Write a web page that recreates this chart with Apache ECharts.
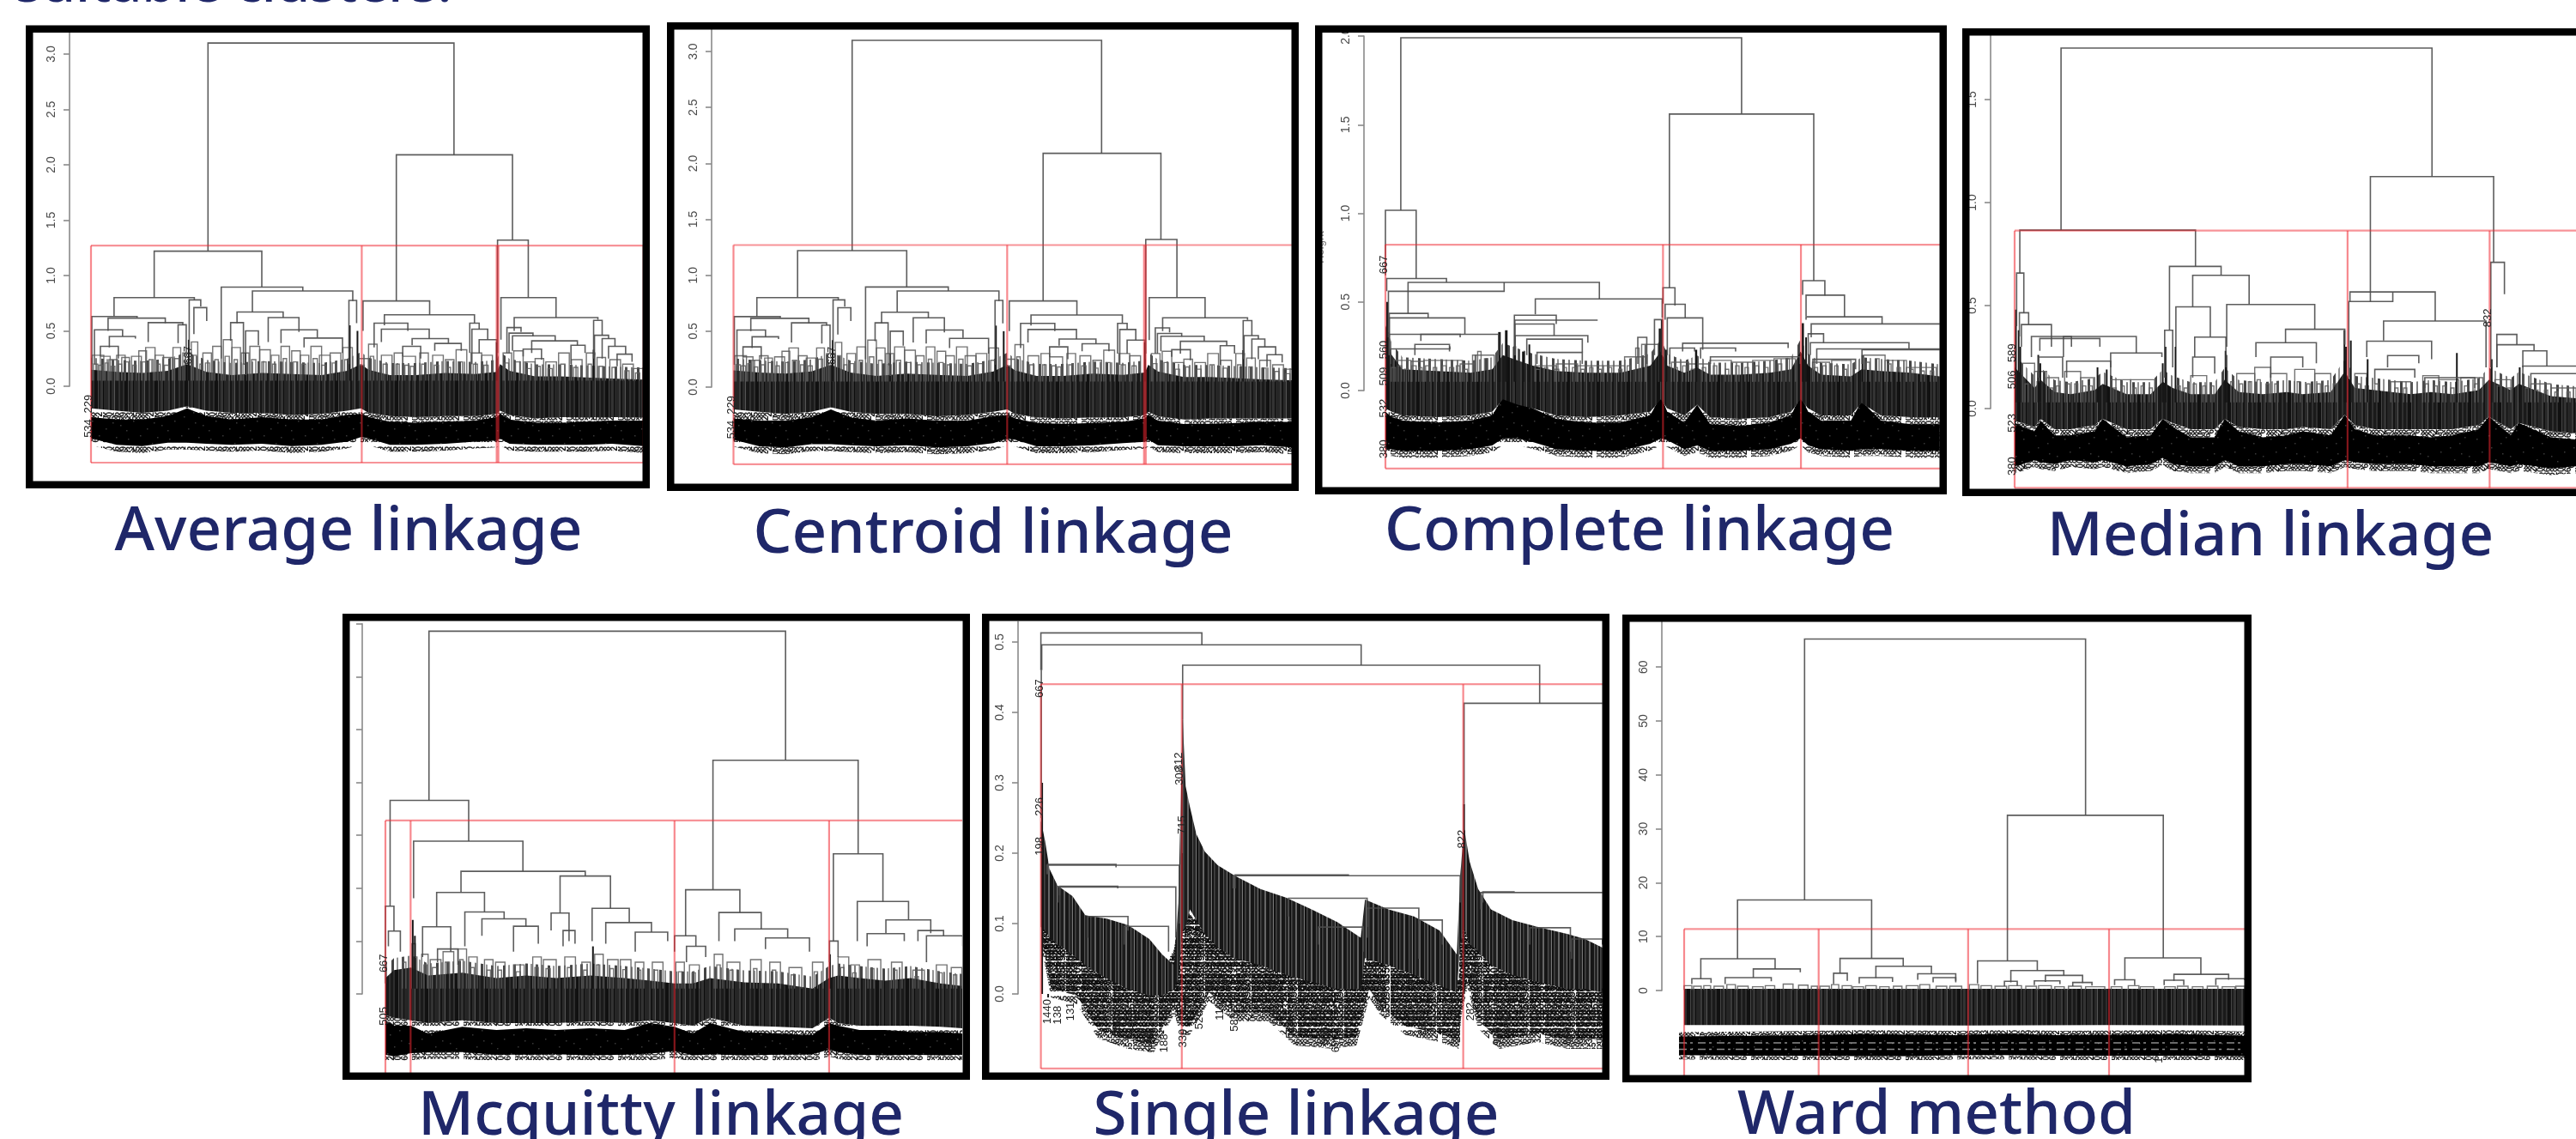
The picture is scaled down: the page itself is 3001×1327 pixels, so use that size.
<!DOCTYPE html>
<html><head><meta charset="utf-8"><style>html,body{margin:0;padding:0;background:#fff;overflow:hidden}#c{width:3001px;height:1327px;filter:blur(.55px)}</style>
<script src="https://cdn.jsdelivr.net/npm/echarts@6/dist/echarts.min.js"></script></head><body><div id="c"></div>
<script>
// ---------- shared by Average and Centroid (the two trees read the same) ----------
const avgMerges=[[274,850,3.10,1.22,2.09],[715,987,2.09,0.77,1.32],[952,1024,1.32,0.30,0.80],[148,400,1.22,0.80,0.895],[305,496,0.895,0.25,0.86],[378,613,0.86,0.67,0.77],[54,242,0.80,0.63,0.78],[230,257,0.78,0.35,0.72],[241,271,0.71,0.47,0.59],[604,622,0.775,0.20,0.57],[342,450,0.67,0.57,0.62],[415,487,0.62,0.40,0.49],[327,357,0.575,0.41,0.2],[362,392,0.50,0.1,0.37],[445,530,0.51,0.39,0.44],[499,589,0.435,0.35,0.3],[2,108,0.63,0.2,0.62],[40,174,0.615,0.5,0.57],[8,74,0.51,0.2,0.45],[43,104,0.45,0.35,0.43],[134,215,0.575,0.4,0.55],[204,223,0.555,0.39,0.3],[22,64,0.36,0.27,0.25],[637,793,0.77,0.5,0.645],[687,898,0.645,0.55,0.57],[663,742,0.57,0.35,0.5],[680,792,0.515,0.4,0.43],[752,837,0.43,0.37,0.39],[805,867,0.387,0.32,0.32],[730,772,0.36,0.27,0.25],[887,909,0.57,0.3,0.515],[892,929,0.515,0.2,0.42],[909,950,0.42,0.3,0.4],[960,1089,0.80,0.42,0.62],[991,1187,0.62,0.5,0.6],[974,1007,0.53,0.3,0.49],[979,1035,0.48,0.3,0.45],[987,1087,0.455,0.32,0.41],[1032,1139,0.41,0.3,0.37],[1177,1197,0.595,0.25,0.46],[1179,1212,0.46,0.28,0.43],[1197,1227,0.43,0.25,0.36],[1212,1252,0.36,0.25,0.29],[1232,1267,0.29,0.18,0.22],[1012,1055,0.335,0.27,0.24],[1124,1157,0.37,0.2,0.3]];
const avgForks=[[3,30,.28],[22,45,.27],[42,62,.24],[60,80,.28],[72,90,.26],[95,118,.27],[112,130,.32],[128,150,.35],[150,170,.28],[168,190,.26],[192,210,.35],[215,235,.3],[235,250,.4],[262,282,.3],[285,305,.36],[310,330,.42],[330,350,.35],[352,370,.3],[372,395,.36],[395,420,.33],[422,440,.28],[445,465,.36],[470,490,.32],[490,510,.28],[515,540,.36],[535,560,.28],[560,585,.3],[590,612,.35],[625,650,.25],[650,670,.38],[680,705,.28],[710,730,.3],[730,760,.27],[770,790,.3],[800,825,.28],[830,850,.24],[855,880,.33],[890,915,.3],[915,940,.28],[965,985,.3],[990,1012,.32],[1015,1040,.22],[1040,1060,.25],[1065,1090,.22],[1095,1120,.3],[1125,1150,.24],[1160,1180,.3],[1185,1205,.26],[1215,1240,.24],[1245,1270,.2],[1270,1294,.16]];
const avgTwigs=[[6,16,.2],[18,28,.19],[33,40,.21],[48,56,.18],[64,72,.2],[80,88,.22],[98,106,.19],[120,128,.22],[136,146,.24],[155,162,.2],[172,182,.19],[196,206,.25],[220,228,.22],[240,247,.28],[255,262,.2],[268,278,.21],[290,298,.24],[314,324,.27],[335,343,.24],[356,364,.2],[376,386,.24],[400,410,.22],[425,433,.2],[450,458,.25],[474,484,.22],[494,503,.2],[520,530,.25],[540,550,.19],[565,575,.21],[594,604,.24],[628,640,.19],[654,662,.27],[684,694,.2],[714,722,.2],[735,745,.19],[748,756,.18],[774,784,.2],[804,814,.19],[834,842,.17],[860,870,.22],[895,905,.2],[920,930,.19],[968,978,.21],[994,1004,.22],[1020,1030,.16],[1044,1052,.18],[1070,1080,.16],[1100,1110,.2],[1130,1140,.17],[1164,1172,.2],[1190,1198,.18],[1220,1230,.17],[1250,1260,.14],[1275,1285,.12]];
const avgBandX=[0,60,120,180,225,270,330,400,470,540,600,632,650,700,760,830,900,950,958,980,1040,1100,1160,1220,1294];
const avgCombTop=[.15,.13,.12,.14,.2,.13,.1,.12,.11,.1,.14,.2,.15,.1,.1,.12,.11,.13,.2,.14,.09,.09,.08,.07,.06];
const avgCombBottom=[-.2,-.22,-.24,-.22,-.18,-.22,-.24,-.24,-.26,-.25,-.22,-.2,-.24,-.27,-.28,-.27,-.27,-.25,-.22,-.26,-.29,-.28,-.28,-.28,-.28];
const avgBlobTop=[-.28,-.3,-.3,-.27,-.2,-.27,-.3,-.28,-.3,-.3,-.26,-.25,-.28,-.32,-.33,-.32,-.31,-.28,-.25,-.3,-.33,-.33,-.32,-.31,-.31];
const avgBlobBottom=[-.47,-.53,-.54,-.51,-.51,-.52,-.53,-.52,-.54,-.53,-.5,-.46,-.47,-.53,-.53,-.52,-.5,-.49,-.47,-.52,-.53,-.53,-.53,-.52,-.54];
const avgSpikes=[[227,231,.42],[360,363,.3],[604,608,.55],[622,625,.5],[948,951,.4],[1175,1178,.33]];
const avgLeafLabels=[[-5,-.16,'229'],[-5,-.38,'534'],[227,.28,'667']];
const avgCuts=[0,634,950,954,1294];
const avgRed=[1.27,-.69];
const avgTicks=[0,.5,1,1.5,2,2.5,3];
const avgTickLabels=['0.0','0.5','1.0','1.5','2.0','2.5','3.0'];
const centroidCuts=[0,632,948,952];

// ---------- Complete ----------
const compMerges=[[36,834,1.99,1.017,1.56],[665,1003,1.56,.58,.62],[0,72,1.017,.65,.632],[3,143,.632,.56,.61],[53,501,.61,.435,.517],[7,278,.56,.3,.61],[351,648,.517,.43,.41],[9,100,.435,.2,.41],[9,186,.41,.3,.32],[9,265,.317,.2,.2],[83,175,.317,.28,.3],[12,151,.235,.15,.25],[69,150,.26,.2,.22],[302,400,.425,.2,.375],[303,497,.397,.2,.397],[303,395,.375,.2,.31],[304,474,.31,.2,.27],[331,461,.29,.2,.215],[355,461,.215,.15,.15],[630,648,.4,.2,.2],[591,612,.3,.15,.15],[650,678,.58,.49,.48],[655,702,.487,.4,.41],[660,743,.41,.2,.23],[666,724,.24,.15,.22],[696,943,.267,.22,.24],[738,820,.24,.18,.22],[761,971,.19,.15,.15],[977,1029,.62,.54,.535],[985,1075,.538,.42,.416],[985,1163,.416,.4,.376],[997,1298,.376,.3,.376],[990,1026,.32,.2,.27],[995,1226,.27,.2,.235],[1010,1298,.235,.15,.235],[1001,1101,.176,.12,.12],[1116,1298,.23,.15,.23]];
const compForks=[[20,60,.17],[60,90,.165],[90,130,.17],[130,180,.17],[175,210,.15],[210,255,.2],[350,400,.14],[400,450,.15],[450,510,.14],[510,560,.14],[560,610,.19],[610,640,.26],[670,710,.16],[710,760,.15],[760,810,.17],[810,860,.16],[860,910,.17],[910,960,.18],[1000,1040,.16],[1045,1090,.17],[1120,1170,.2],[1170,1220,.17],[1220,1290,.13]];
const compTwigs=[[14,24,.13],[30,38,.14],[44,54,.12],[62,72,.14],[78,86,.13],[94,104,.14],[112,120,.13],[134,142,.14],[150,160,.13],[166,174,.14],[184,192,.12],[204,212,.2],[216,224,.22],[232,240,.18],[352,362,.12],[372,380,.13],[396,406,.12],[416,424,.13],[438,446,.13],[458,466,.12],[478,486,.13],[498,506,.12],[520,530,.13],[546,554,.12],[566,574,.14],[586,594,.24],[600,608,.26],[676,684,.13],[696,704,.14],[716,724,.12],[742,750,.13],[768,776,.14],[796,804,.12],[820,828,.14],[842,850,.13],[866,874,.14],[888,896,.13],[920,928,.15],[938,946,.18],[1004,1012,.13],[1024,1032,.14],[1052,1060,.14],[1072,1080,.12],[1126,1134,.16],[1148,1156,.18],[1176,1184,.15],[1198,1206,.13],[1228,1236,.12],[1254,1262,.11],[1276,1284,.11]];
const compBandX=[0,15,40,120,200,250,275,310,345,400,470,550,620,645,660,700,730,760,830,900,950,972,990,1020,1090,1115,1160,1230,1298];
const compCombTop=[.3,.2,.12,.11,.1,.12,.2,.17,.14,.11,.1,.1,.14,.22,.14,.1,.13,.09,.09,.1,.12,.22,.14,.09,.08,.12,.11,.1,.08];
const compCombBottom=[-.1,-.12,-.14,-.15,-.14,-.12,-.05,-.08,-.1,-.14,-.15,-.14,-.12,-.05,-.1,-.14,-.08,-.15,-.16,-.15,-.12,-.05,-.1,-.14,-.14,-.07,-.14,-.15,-.15];
const compBlobTop=[-.12,-.15,-.17,-.18,-.17,-.14,-.04,-.06,-.1,-.16,-.18,-.18,-.14,-.03,-.12,-.18,-.08,-.19,-.2,-.18,-.14,-.03,-.12,-.17,-.17,-.06,-.17,-.19,-.19];
const compBlobBottom=[-.33,-.33,-.34,-.34,-.33,-.31,-.27,-.27,-.29,-.33,-.34,-.34,-.3,-.27,-.28,-.33,-.31,-.34,-.34,-.33,-.3,-.27,-.31,-.33,-.34,-.33,-.33,-.34,-.34];
const compSpikes=[[2,6,.5],[6,10,.33],[264,270,.33],[280,286,.34],[300,306,.25],[320,326,.22],[335,339,.26],[645,650,.4],[640,645,.35],[655,660,.23],[725,730,.23],[975,980,.38],[983,987,.3],[1115,1118,.2]];
const compLeafLabels=[[-3,.71,'667'],[-3,.23,'560'],[-3,.08,'509'],[-3,-.1,'532'],[-3,-.33,'380']];
const compCuts=[0,650,973];
const compRed=[.823,-.44];
const compTicks=[0,.5,1,1.5,2];
const compTickLabels=['0.0','0.5','1.0','1.5','2.0'];

// ---------- Median ----------
const medMerges=[[116,1043,1.75,.866,1.126],[889,1197,1.126,.52,.71],[13,452,.866,.658,.69],[387,516,.69,.38,.647],[445,586,.647,.494,.505],[403,489,.494,.3,.347],[530,750,.505,.3,.385],[677,825,.385,.32,.31],[603,754,.32,.25,.22],[450,528,.347,.25,.2],[5,23,.658,.4,.465],[12,35,.465,.35,.408],[17,92,.408,.3,.3],[42,304,.35,.25,.27],[63,213,.34,.28,.3],[122,142,.35,.25,.3],[240,368,.27,.2,.25],[375,395,.38,.15,.2],[838,1051,.566,.52,.425],[835,945,.52,.15,.566],[922,1178,.425,.33,.2],[880,1042,.327,.25,.24],[932,1010,.257,.2,.22],[900,1000,.19,.12,.15],[1025,1150,.15,.1,.1],[1190,1224,.71,.2,.555],[1205,1255,.36,.2,.31],[1205,1298,.31,.2,.28],[1270,1330,.28,.2,.206],[1270,1403,.206,.12,.206],[1290,1403,.17,.1,.17],[445,500,.25,.15,.17],[640,720,.25,.15,.2],[130,240,.23,.15,.15],[60,120,.25,.15,.15]];
const medForks=[[20,50,.22],[50,80,.18],[80,110,.15],[125,165,.18],[165,200,.15],[240,290,.14],[290,350,.14],[440,480,.16],[555,600,.17],[600,640,.2],[640,680,.17],[700,750,.19],[750,790,.17],[850,880,.17],[940,990,.13],[1020,1060,.16],[1060,1110,.14],[1115,1170,.15],[1200,1240,.14],[1290,1340,.12],[1340,1403,.1]];
const medTwigs=[[26,34,.12],[56,64,.13],[86,96,.1],[104,112,.11],[130,138,.12],[150,158,.12],[170,178,.11],[186,194,.11],[246,254,.1],[266,274,.11],[296,304,.1],[316,324,.11],[336,344,.1],[406,414,.11],[424,432,.1],[446,454,.12],[470,478,.11],[490,498,.11],[540,548,.13],[562,570,.12],[584,592,.13],[606,614,.14],[628,636,.12],[650,658,.12],[706,714,.13],[730,738,.12],[756,764,.12],[776,784,.11],[796,804,.12],[856,864,.12],[876,884,.11],[900,908,.12],[950,958,.1],[972,980,.1],[1026,1034,.12],[1048,1056,.11],[1070,1078,.11],[1090,1098,.1],[1124,1132,.11],[1150,1158,.12],[1206,1214,.11],[1232,1240,.1],[1276,1284,.1],[1300,1308,.09],[1324,1332,.09],[1350,1358,.08],[1380,1388,.08]];
const medBandX=[0,20,50,65,100,140,200,220,280,340,370,395,440,500,525,560,620,680,720,790,825,850,900,990,1040,1095,1160,1185,1240,1260,1340,1403];
const medCombTop=[.2,.16,.1,.14,.08,.07,.09,.12,.07,.07,.13,.1,.07,.07,.14,.08,.07,.08,.07,.08,.18,.1,.09,.07,.08,.07,.09,.14,.09,.12,.06,.05];
const medCombBottom=[-.06,-.07,-.09,-.05,-.1,-.1,-.08,-.05,-.1,-.1,-.05,-.07,-.1,-.1,-.05,-.09,-.1,-.1,-.09,-.1,-.03,-.08,-.1,-.1,-.1,-.1,-.08,-.04,-.1,-.07,-.11,-.12];
const medBlobTop=[-.07,-.09,-.11,-.06,-.13,-.13,-.11,-.05,-.14,-.13,-.05,-.09,-.14,-.14,-.05,-.11,-.14,-.13,-.11,-.13,-.03,-.1,-.13,-.13,-.14,-.13,-.1,-.04,-.13,-.07,-.14,-.15];
const medBlobBottom=[-.28,-.27,-.25,-.26,-.27,-.25,-.26,-.25,-.28,-.27,-.24,-.27,-.28,-.28,-.25,-.28,-.28,-.27,-.27,-.28,-.25,-.26,-.27,-.27,-.28,-.28,-.28,-.26,-.28,-.27,-.29,-.28];
const medSpikes=[[1,5,.48],[8,12,.38],[12,16,.3],[57,61,.26],[62,66,.22],[205,208,.2],[228,231,.19],[368,372,.22],[375,378,.3],[400,403,.3],[525,528,.28],[527,530,.26],[822,826,.38],[826,829,.3],[838,842,.33],[880,884,.24],[1190,1194,.24],[1103,1106,.27],[1260,1263,.2]];
const medLeafLabels=[[-6,.27,'589'],[-6,.14,'506'],[-6,-.07,'523'],[-6,-.28,'380'],[1183,.44,'832']];
const medCuts=[0,832,1187];
const medRed=[.864,-.385];
const medTicks=[0,.5,1,1.5];
const medTickLabels=['0.0','0.5','1.0','1.5'];

// ---------- Mcquitty ----------
const mcqMerges=[[102,937,6.86,3.66,4.42],[767,1107,4.42,1.97,2.65],[11,195,3.66,1.66,2.89],[66,322,2.89,1.81,2.32],[177,468,2.32,1.92,2.23],[409,527,2.23,1.53,1.62],[120,232,1.92,1.27,1.55],[186,278,1.55,.9,1.42],[226,329,1.42,1.1,1.28],[300,358,1.28,.8,.95],[388,430,1.53,1.2,1.0],[416,444,1.2,.9,.95],[484,571,1.62,1.0,1.35],[516,623,1.35,.95,1.17],[585,661,1.17,.8,1.0],[0,20,1.66,.2,1.19],[7,35,1.19,.9,.8],[703,830,1.97,1.1,1.54],[781,880,1.54,1.0,1.23],[818,942,1.23,1.0,1.06],[890,993,1.06,.85,.8],[677,727,1.1,.8,.9],[705,750,.9,.6,.7],[1049,1165,2.65,1.0,1.75],[1105,1225,1.75,1.0,1.4],[1172,1277,1.4,1.15,1.15],[1128,1215,1.14,.9,1.0],[1247,1307,1.2,1.0,1.1],[1267,1352,1.1,.6,.9],[87,153,1.27,.7,.8],[122,170,.85,.6,.55],[1040,1060,1.0,.6,.7]];
const mcqForks=[[62,70,.95],[85,100,.75],[105,130,.65],[135,160,.8],[170,190,.85],[195,215,.7],[232,252,.65],[258,280,.6],[300,325,.55],[345,365,.7],[370,400,.65],[420,445,.7],[460,480,.6],[490,510,.75],[520,545,.65],[550,575,.65],[585,605,.6],[625,650,.6],[680,700,.6],[712,735,.55],[770,790,.75],[800,830,.6],[855,880,.65],[900,925,.6],[945,975,.5],[1000,1025,.6],[1060,1085,.7],[1090,1110,.55],[1130,1160,.65],[1185,1210,.6],[1235,1262,.45],[1290,1315,.55],[1325,1350,.5]];
const mcqTwigs=[[40,48,.6],[66,74,.7],[90,98,.55],[110,120,.5],[140,150,.6],[174,182,.65],[200,208,.5],[238,246,.45],[264,272,.45],[306,316,.42],[350,358,.5],[376,386,.48],[426,434,.5],[464,472,.45],[494,502,.55],[526,534,.48],[556,564,.46],[590,598,.45],[630,638,.45],[686,694,.42],[718,726,.4],[776,784,.55],[806,814,.45],[862,870,.48],[906,914,.45],[950,958,.36],[1004,1012,.42],[1066,1074,.5],[1094,1102,.4],[1136,1144,.48],[1190,1198,.45],[1240,1248,.33],[1296,1304,.4],[1330,1338,.36]];
const mcqBandX=[0,20,60,100,180,260,330,400,480,560,620,677,720,760,840,920,1000,1039,1060,1110,1170,1230,1300,1352];
const mcqCombTop=[.3,.45,.5,.35,.4,.3,.35,.3,.35,.3,.25,.2,.2,.3,.22,.2,.1,.3,.35,.3,.25,.3,.2,.15];
const mcqCombBottom=[-.4,-.45,-.5,-.55,-.5,-.55,-.55,-.55,-.52,-.55,-.5,-.55,-.6,-.45,-.6,-.62,-.65,-.45,-.55,-.6,-.6,-.6,-.62,-.65];
const mcqBlobTop=[-.5,-.6,-.6,-.75,-.62,-.68,-.65,-.68,-.65,-.68,-.55,-.62,-.75,-.55,-.72,-.75,-.78,-.55,-.6,-.68,-.68,-.72,-.72,-.75];
const mcqBlobBottom=[-1.15,-1.18,-1.12,-1.1,-1.1,-1.15,-1.15,-1.14,-1.16,-1.15,-1.13,-1.08,-1.16,-1.14,-1.16,-1.15,-1.14,-1.05,-1.1,-1.15,-1.16,-1.15,-1.16,-1.15];
const mcqSpikes=[[62,66,1.4],[67,70,1.1],[484,487,.9],[1039,1042,.75]];
const mcqLeafLabels=[[-4,.58,'667'],[-3,-.42,'505']];
const mcqCuts=[0,59,677,1039];
const mcqRed=[3.28,-2.5];
const mcqTicks=[0,1,2,3,4,5,6,7];

// ---------- Single ----------
const singleMerges=[[0,377,.513,.46,.496],[2,750,.496,.46,.467],[332,1168,.467,.39,.413],[991,1315,.413,.27,.413],[1,1,.46,.25,.25],[332,332,.39,.2,.2],[14,324,.183,.17,.1],[16,176,.184,.17,.18],[40,316,.152,.13,.08],[44,180,.153,.14,.15],[110,204,.11,.08,.09],[195,299,.096,.07,.06],[450,982,.168,.15,.13],[455,720,.169,.15,.168],[580,764,.136,.11,.095],[764,885,.122,.08,.1],[885,940,.105,.05,.07],[650,755,.095,.07,.06],[1030,1315,.144,.12,.144],[1035,1108,.145,.13,.144],[1145,1240,.094,.07,.06],[1243,1315,.078,.05,.07]];
const singleForks=[];
const singleTwigs=[];
const singleCombX=[0,10,20,39,74,104,154,204,254,284,312,322,332,339,349,364,384,414,454,514,574,634,694,749,759,814,874,934,974,982,991,1004,1024,1054,1104,1164,1234,1274,1315];
const singleCombTop=[.246,.217,.178,.154,.139,.112,.107,.098,.078,.056,.041,.129,.393,.295,.266,.227,.202,.183,.168,.149,.137,.12,.102,.08,.134,.12,.11,.09,.056,.168,.237,.188,.149,.12,.105,.095,.085,.078,.066];
const singleCombBottom=[.095,.09,.08,.071,.056,.041,.022,.007,-.002,-.002,.007,.022,.09,.095,.12,.105,.085,.066,.051,.041,.027,.017,.007,.007,.051,.041,.027,.012,.002,.071,.095,.071,.061,.041,.027,.017,.007,.007,.002];
const singleBlobX=[4,24,84,134,204,264,312,329,349,394,454,534,594,684,739,769,794,854,934,979,984,999,1024,1074,1164,1234,1315];
const singleBlobTop=[.095,.09,.056,.032,.022,.007,.061,.139,.11,.095,.08,.071,.046,.032,.012,.061,.056,.032,.022,.017,.159,.178,.08,.041,.027,.022,.007];
const singleBlobBottom=[.071,.007,-.002,-.051,-.066,-.071,-.017,-.046,-.046,.002,-.027,-.027,-.061,-.066,-.061,.007,-.017,-.046,-.056,-.066,-.022,.022,-.037,-.066,-.056,-.066,-.066];
const singleSpikes=[[15,17,-.005],[335,337,-.03],[1,3,.3],[989,992,.27]];
const singleLeafLabels=[[-3,.434,'667'],[-3,.266,'226'],[-3,.21,'198'],[324,.33,'312'],[326,.31,'308'],[332,.24,'715'],[986,.22,'822'],[1019,.03,'970'],[16,-.025,'1440'],[39,-.03,'138'],[69,-.025,'131'],[371,-.037,'526'],[419,-.025,'119'],[454,-.04,'586'],[546,-.03,'668'],[584,-.05,'520'],[664,-.06,'606'],[692,-.07,'690'],[797,-.012,'401'],[894,-.046,'283'],[974,-.056,'293'],[1006,-.025,'282'],[1069,-.06,'925'],[1094,-.044,'906'],[1234,-.06,'889'],[334,-.063,'330'],[289,-.07,'188'],[252,-.066,'146'],[209,-.05,'615'],[179,-.046,'250']];
const singleCuts=[0,330,989];
const singleRed=[.44,-.106];
const singleTicks=[0,.1,.2,.3,.4,.5];
const singleTickLabels=['0.0','0.1','0.2','0.3','0.4','0.5'];

// ---------- Ward ----------
const wardMerges=[[282,940,65.2,16.8,32.5],[757,1122,32.5,5.5,6.05],[125,439,16.8,5.9,5.95],[39,213,5.9,2.2,4.0],[162,272,4.0,2.4,3.4],[96,204,2.4,1.2,1.7],[18,63,2.2,1.2,1.4],[365,513,5.95,3.2,4.5],[350,382,3.2,1.2,1.8],[449,579,4.5,2.3,3.1],[410,488,2.4,1.3,1.6],[547,636,3.1,2,1.8],[583,636,2.4,1.5,1.5],[687,827,5.5,1.3,3.7],[765,889,3.7,1.5,2.8],[846,933,2.8,1.6,1.4],[820,880,1.8,1.0,1.2],[750,780,1.7,.8,.9],[910,955,1.5,.8,.9],[1032,1210,6.05,2.0,3.0],[1147,1275,3.0,1.8,2.0],[1124,1170,1.9,1,1],[1245,1313,2.2,1,1.9],[1008,1055,2.0,1,1]];
const wardForks=[[0,18,.9],[22,40,.8],[46,62,.9],[70,92,.8],[100,120,1.1],[125,150,.8],[160,185,.7],[190,212,.9],[232,255,1.2],[268,290,1.0],[298,312,.8],[318,340,.8],[345,362,1.1],[370,392,.9],[395,420,.7],[425,450,.9],[458,480,.7],[490,510,.8],[520,548,.9],[552,575,1.1],[590,615,.8],[622,650,.8],[668,690,1.1],[695,720,.9],[728,755,.8],[760,790,.9],[800,825,.8],[830,860,.9],[868,890,.7],[900,930,.8],[940,985,.7],[1000,1025,.7],[1040,1065,.9],[1068,1100,.7],[1125,1150,.7],[1155,1180,.8],[1190,1215,.7],[1225,1250,.8],[1260,1290,.7],[1292,1313,.8]];
const wardTwigs=[];
const wardCombX=[0,330,660,990,1313];
const wardCombTop=[.3,.3,.3,.3,.3];
const wardCombBottom=[-6.4,-6.4,-6.5,-6.4,-6.5];
const wardBlobX=[-12,150,300,420,540,640,750,880,1000,1160,1313];
const wardBlobTop=[-8.5,-8.4,-8.3,-8.1,-8.2,-8.3,-8.0,-8.3,-8.2,-8.1,-8.4];
const wardBlobBottom=[-12.0,-12.1,-12.1,-12.2,-12.2,-12.0,-12.0,-12.1,-12.1,-12.1,-12.2];
const wardGaps=[[-12,1313,-9.7],[-12,1313,-10.9]];
const wardSpikes=[];
const wardLeafLabels=[[1112,-12.9,'1']];
const wardCuts=[0,315,665,995];
const wardRed=[11.4,-16];
const wardTicks=[0,10,20,30,40,50,60];
const wardTickLabels=['0','10','20','30','40','50','60'];

const panelTitles=['Average linkage','Centroid linkage','Complete linkage','Median linkage','Mcquitty linkage','Single linkage','Ward method'];
const introText='suitable clusters.';

// ---------- layout (pixels) ----------
const layouts=[
 {frame:[30,29.5,757,569],inner:[39,37,750,561],axisX:81,y0:450,unit:129,left:106,k:.4975,axisTop:3.2,titleX:406,titleY:621},
 {frame:[777,26,1513,572],inner:[785,34,1505,565],axisX:829,y0:451,unit:130.3,left:854.5,k:.5045,axisTop:3.25,titleX:1157,titleY:624},
 {frame:[1532,29.5,2268,576],inner:[1540,37,2260,568],axisX:1589,y0:455,unit:206.5,left:1614,k:.4975,axisTop:2.0,titleX:1910,titleY:621},
 {frame:[2286,33,3060,578],inner:[2294,41.6,3001,570],axisX:2319,y0:476,unit:240,left:2347,k:.4662,axisTop:1.81,titleX:2645,titleY:627},
 {frame:[399,715,1130,1258],inner:[407,724,1121,1251],axisX:422,y0:1158,unit:61.6,left:449,k:.4975,axisTop:7,titleX:770,titleY:1302},
 {frame:[1144,715,1875,1258],inner:[1153,724,1867,1251],axisX:1186,y0:1158,unit:820,left:1212.6,k:.4975,axisTop:.529,titleX:1510,titleY:1302},
 {frame:[1890,716,2623,1261],inner:[1899,724,2615,1253],axisX:1936,y0:1154,unit:6.28,left:1962,k:.4975,axisTop:68.4,titleX:2256,titleY:1301}
];
const panels=[
 {m:avgMerges,f:avgForks.concat(avgTwigs),s:avgSpikes,forkBase:.05,cx:avgBandX,ct:avgCombTop,cb:avgCombBottom,bx:avgBandX,bt:avgBlobTop,bb:avgBlobBottom,leaf:avgLeafLabels,cuts:avgCuts,red:avgRed,ticks:avgTicks,tl:avgTickLabels},
 {m:avgMerges,f:avgForks.concat(avgTwigs),s:avgSpikes,forkBase:.05,cx:avgBandX,ct:avgCombTop,cb:avgCombBottom,bx:avgBandX,bt:avgBlobTop,bb:avgBlobBottom,leaf:avgLeafLabels,cuts:centroidCuts,red:avgRed,ticks:avgTicks,tl:avgTickLabels},
 {m:compMerges,f:compForks.concat(compTwigs),s:compSpikes,forkBase:.05,cx:compBandX,ct:compCombTop,cb:compCombBottom,bx:compBandX,bt:compBlobTop,bb:compBlobBottom,leaf:compLeafLabels,cuts:compCuts,red:compRed,ticks:compTicks,tl:compTickLabels},
 {m:medMerges,f:medForks.concat(medTwigs),s:medSpikes,forkBase:.03,cx:medBandX,ct:medCombTop,cb:medCombBottom,bx:medBandX,bt:medBlobTop,bb:medBlobBottom,leaf:medLeafLabels,cuts:medCuts,red:medRed,ticks:medTicks,tl:medTickLabels},
 {m:mcqMerges,f:mcqForks.concat(mcqTwigs),s:mcqSpikes,forkBase:.1,cx:mcqBandX,ct:mcqCombTop,cb:mcqCombBottom,bx:mcqBandX,bt:mcqBlobTop,bb:mcqBlobBottom,leaf:mcqLeafLabels,cuts:mcqCuts,red:mcqRed,ticks:mcqTicks,tl:null},
 {m:singleMerges,f:singleForks.concat(singleTwigs),s:singleSpikes,forkBase:0,cx:singleCombX,ct:singleCombTop,cb:singleCombBottom,bx:singleBlobX,bt:singleBlobTop,bb:singleBlobBottom,leaf:singleLeafLabels,cuts:singleCuts,red:singleRed,ticks:singleTicks,tl:singleTickLabels,loose:true},
 {m:wardMerges,f:wardForks.concat(wardTwigs),s:wardSpikes,forkBase:.1,cx:wardCombX,ct:wardCombTop,cb:wardCombBottom,bx:wardBlobX,bt:wardBlobTop,bb:wardBlobBottom,gaps:wardGaps,leaf:wardLeafLabels,cuts:wardCuts,red:wardRed,ticks:wardTicks,tl:wardTickLabels,flat:true}
];

// ---------- texture fills (style only) ----------
function stripes(widths,colors){
  const w=widths.reduce((a,b)=>a+b,0), c=document.createElement('canvas'); c.width=w; c.height=8;
  const g=c.getContext('2d'); let x=0;
  widths.forEach((d,i)=>{const col=colors[i%colors.length]; if(col){g.fillStyle=col;g.fillRect(x,0,d,8);} x+=d;});
  return {image:c,repeat:'repeat'};
}
function digits(cw,ch,stepX,stepY,font,color,back,speck){
  const c=document.createElement('canvas'); c.width=cw; c.height=ch; const g=c.getContext('2d');
  if(back){g.fillStyle=back;g.fillRect(0,0,cw,ch);}
  g.fillStyle=color; g.font=font; g.textAlign='center'; g.textBaseline='middle';
  const s='8069358206';let n=0;
  for(let y=0;y<ch;y+=stepY){for(let x=(y/stepY%2)*stepX/2;x<cw;x+=stepX){
    g.save();g.translate(x,y);g.rotate(-Math.PI/2);g.fillText(s[n%10]+s[(n+3)%10],0,0);g.restore();n++;}}
  if(speck){g.fillStyle=speck;[[5,7],[19,3],[33,12],[44,27],[11,22],[27,31],[39,5],[3,33],[22,17],[35,24]].forEach(p=>g.fillRect(p[0],p[1],1.5,1.5));}
  return {image:c,repeat:'repeat'};
}
const combFill=stripes([3,2,4,1,2,3,1,5,2,2,3,1,4,2],['#1a1a1a','#2e2e2e','#111','#444','#1e1e1e','#333','#0c0c0c','#262626','#3a3a3a','#141414','#2a2a2a','#555','#181818','#303030']);
const looseFill=stripes([3,1,3,1,2,1,1,3,2,1],['#161616','#555','#262626','#777','#111','#444','#333','#1c1c1c','#666','#161616']);
const fuzzFill=stripes([3,4,2,5,3,3,2,4],['rgba(50,50,50,.85)',null,'rgba(80,80,80,.75)',null,'rgba(35,35,35,.85)',null,'rgba(100,100,100,.7)',null]);
const blobFill=digits(48,36,7,6,'bold 9px Liberation Sans','#000','#000','rgba(255,255,255,.22)');
const haloFill=digits(60,40,8,10,'bold 10px Liberation Sans','rgba(0,0,0,.9)',null);
const cloudFill=digits(54,42,9,7,'bold 12px Liberation Sans','#0e0e0e',null);

const LINE='#4b4b4b';
function polygonSeries(g,xs,top,bottom,fill,z,upPx,downPx){
  const up=upPx||0, dn=downPx||0;
  return {type:'custom',xAxisIndex:g,yAxisIndex:g,z,silent:true,clip:true,data:[[xs[0],top[0]]],
    renderItem:(p,api)=>{
      const T=xs.map((x,i)=>{const q=api.coord([x,top[i]]);return [q[0],q[1]-up];});
      const B=xs.map((x,i)=>{const q=api.coord([x,bottom[i]]);return [q[0],q[1]+dn];}).reverse();
      return {type:'polygon',shape:{points:T.concat(B)},style:{fill}};
    }};
}
const grids=[],xAxes=[],yAxes=[],series=[],elements=[];
layouts.forEach((L,i)=>{
  const P=panels[i], g=2*i, a=2*i+1, [il,it,ir,ib]=L.inner;
  grids.push({left:il,top:it,width:ir-il,height:ib-it,containLabel:false});
  xAxes.push({gridIndex:g,type:'value',show:false,min:(il-L.left)/L.k,max:(ir-L.left)/L.k});
  yAxes.push({gridIndex:g,type:'value',show:false,min:(L.y0-ib)/L.unit,max:(L.y0-it)/L.unit});
  grids.push({left:L.axisX,top:L.y0-L.axisTop*L.unit,width:10,height:L.axisTop*L.unit});
  xAxes.push({gridIndex:a,type:'value',show:false,min:0,max:1});
  yAxes.push({gridIndex:a,type:'value',position:'left',min:0,max:L.axisTop,splitLine:{show:false},
    axisLine:{show:true,lineStyle:{color:'#8a8a8a',width:1.6}},
    axisTick:{show:true,length:7,customValues:P.ticks,lineStyle:{color:'#8a8a8a',width:1.6}},
    axisLabel:P.tl?{show:true,customValues:P.ticks,rotate:90,margin:14,color:'#4a4a4a',fontFamily:'Liberation Sans',fontSize:14,
      formatter:v=>{const k=P.ticks.findIndex(t=>Math.abs(t-v)<1e-6);return k<0?'':P.tl[k];}}:{show:false}});
  // dense leaf band and label band
  if(!P.flat && !P.loose) series.push(polygonSeries(g,P.bx,P.cb,P.bb,haloFill,1,0,8));
  if(P.flat) series.push(polygonSeries(g,P.bx,P.bt,P.bb,haloFill,1,5,5));
  if(P.loose) series.push(polygonSeries(g,P.bx,P.bt,P.bb,haloFill,1,2,10));
  series.push(polygonSeries(g,P.bx,P.bt,P.bb,P.loose?cloudFill:blobFill,2));
  if(!P.loose && !P.flat) series.push(polygonSeries(g,P.cx,P.ct,P.ct,fuzzFill,3,14,3));
  series.push(polygonSeries(g,P.cx,P.ct,P.cb,P.loose?looseFill:combFill,3));
  if(P.gaps) series.push({type:'custom',xAxisIndex:g,yAxisIndex:g,z:4,silent:true,clip:true,data:P.gaps,encode:{x:[0,1],y:2},
    renderItem:(p,api)=>{const A=api.coord([api.value(0),api.value(2)]),B=api.coord([api.value(1),api.value(2)]);
      return {type:'line',shape:{x1:A[0],y1:A[1],x2:B[0],y2:B[1]},style:{stroke:'rgba(255,255,255,.55)',lineWidth:1.5,lineDash:[9,4,3,6]}};}});
  // small forks at the head of the leaves
  if(P.f.length) series.push({type:'custom',xAxisIndex:g,yAxisIndex:g,z:4,silent:true,clip:true,data:P.f,encode:{x:[0,1],y:2},
    renderItem:(p,api)=>{const l=api.value(0),r=api.value(1),h=api.value(2);
      return {type:'polyline',shape:{points:[api.coord([l,P.forkBase]),api.coord([l,h]),api.coord([r,h]),api.coord([r,P.forkBase])]},style:{stroke:'#5a5a5a',lineWidth:1.4,fill:null,opacity:.85}};}});
  // tall dark single leaves
  if(P.s.length) series.push({type:'custom',xAxisIndex:g,yAxisIndex:g,z:4,silent:true,clip:true,data:P.s,encode:{x:[0,1],y:2},
    renderItem:(p,api)=>{const A=api.coord([api.value(0),api.value(2)]),B=api.coord([api.value(1),P.forkBase]);
      return {type:'rect',shape:{x:A[0],y:A[1],width:Math.max(2,B[0]-A[0]),height:B[1]-A[1]},style:{fill:'#161616'}};}});
  // tree merges
  series.push({type:'custom',xAxisIndex:g,yAxisIndex:g,z:5,silent:true,clip:true,data:P.m,encode:{x:[0,1],y:[2,3,4]},
    renderItem:(p,api)=>{const l=api.value(0),r=api.value(1),h=api.value(2),bl=api.value(3),br=api.value(4);
      return {type:'polyline',shape:{points:[api.coord([l,bl]),api.coord([l,h]),api.coord([r,h]),api.coord([r,br])]},style:{stroke:LINE,lineWidth:1.6,fill:null,opacity:.9}};}});
  // red cluster boxes
  series.push({type:'custom',xAxisIndex:g,yAxisIndex:g,z:6,silent:true,clip:true,data:P.cuts.map(x=>[x]),
    renderItem:(p,api)=>{const x=api.value(0),T=api.coord([x,P.red[0]]),B=api.coord([x,P.red[1]]);
      const children=[{type:'line',shape:{x1:T[0],y1:T[1],x2:B[0],y2:B[1]},style:{stroke:'rgba(240,40,50,.55)',lineWidth:2.2}}];
      if(p.dataIndex===0){const R=api.coord([P.cuts[P.cuts.length-1]+2000,P.red[0]]),R2=api.coord([P.cuts[P.cuts.length-1]+2000,P.red[1]]);
        children.push({type:'line',shape:{x1:T[0],y1:T[1],x2:R[0],y2:R[1]},style:{stroke:'rgba(240,40,50,.5)',lineWidth:2.2}});
        children.push({type:'line',shape:{x1:B[0],y1:B[1],x2:R2[0],y2:R2[1]},style:{stroke:'rgba(240,40,50,.5)',lineWidth:2.2}});}
      return {type:'group',children};}});
  // leaf labels
  series.push({type:'scatter',xAxisIndex:g,yAxisIndex:g,z:7,silent:true,symbolSize:1,itemStyle:{color:'transparent'},data:P.leaf,
    label:{show:true,position:'inside',rotate:90,fontFamily:'Liberation Sans',fontSize:13,color:'#222',opacity:1,formatter:q=>q.data[2]}});
  series.push({type:'line',xAxisIndex:a,yAxisIndex:a,data:[],silent:true});
  // frame and title
  const [fl,ft,fr,fb]=L.frame, bw=8.5;
  elements.push({type:'rect',z:100,silent:true,shape:{x:fl+bw/2,y:ft+bw/2,width:fr-fl-bw,height:fb-ft-bw},style:{fill:'transparent',stroke:'#000',lineWidth:bw}});
  elements.push({type:'text',z:101,silent:true,x:L.titleX,y:L.titleY,style:{text:panelTitles[i],font:'500 71px "Noto Sans"',fill:'#1f2769',textAlign:'center',textVerticalAlign:'middle'}});
});
elements.push({type:'text',z:101,silent:true,x:18,y:-16,style:{text:introText,font:'500 63px "Noto Sans"',fill:'#1f2769',textAlign:'left',textVerticalAlign:'middle'}});
elements.push({type:'text',z:99,silent:true,x:1538,y:288,rotation:Math.PI/2,style:{text:'Height',font:'13px Liberation Sans',fill:'#777',textAlign:'center',textVerticalAlign:'middle'}});

const chart=echarts.init(document.getElementById('c'),null,{renderer:'canvas',width:3001,height:1327});
chart.setOption({animation:false,backgroundColor:'#fff',grid:grids,xAxis:xAxes,yAxis:yAxes,series,graphic:{elements}});
</script></body></html>
